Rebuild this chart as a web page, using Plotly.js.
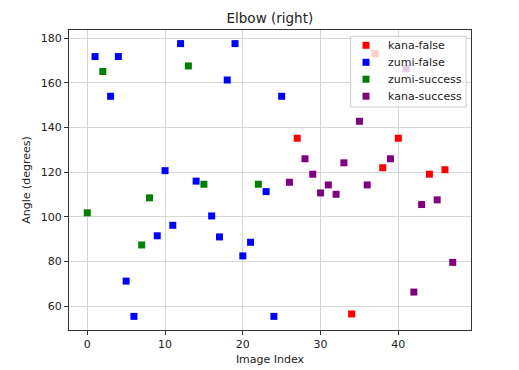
<!DOCTYPE html>
<html>
<head>
<meta charset="utf-8">
<script src="https://cdn.plot.ly/plotly-3.0.1.min.js"></script>
<style>html,body{margin:0;padding:0;background:#fff;}#chart{width:519px;height:370px;}</style>
</head>
<body>
<div id="chart"></div>
<script>
// Image index -> angle, by group
const kanaFalseX = [27, 34, 37, 38, 40, 44, 46];
const kanaFalseY = [135.2, 56.5, 173.1, 122.0, 135.2, 119.1, 121.1];

const zumiFalseX = [1, 3, 4, 5, 6, 9, 10, 11, 12, 14, 16, 17, 18, 19, 20, 21, 23, 24, 25];
const zumiFalseY = [171.8, 154.0, 171.8, 71.2, 55.4, 91.5, 120.7, 96.2, 177.6, 116.0, 100.4, 91.0, 161.3, 177.6, 82.5, 88.6, 111.3, 55.4, 154.0];

const zumiSuccessX = [0, 2, 7, 8, 13, 15, 22];
const zumiSuccessY = [101.8, 165.1, 87.4, 108.5, 167.6, 114.6, 114.6];

const kanaSuccessX = [26, 28, 29, 30, 31, 32, 33, 35, 36, 39, 41, 42, 43, 45, 47];
const kanaSuccessY = [115.5, 126.0, 119.1, 110.7, 114.3, 110.1, 124.2, 142.8, 114.3, 126.0, 166.4, 66.3, 105.5, 107.6, 79.6];

const seriesNames = ['kana-false', 'zumi-false', 'zumi-success', 'kana-success'];
const seriesColors = ['#ff0000', '#0000ff', '#008000', '#800080'];
const xs = [kanaFalseX, zumiFalseX, zumiSuccessX, kanaSuccessX];
const ys = [kanaFalseY, zumiFalseY, zumiSuccessY, kanaSuccessY];

const traces = seriesNames.map((n, i) => ({
  type: 'scatter', mode: 'markers', name: n, x: xs[i], y: ys[i],
  marker: {symbol: 'square', size: 7, color: seriesColors[i], line: {width: 0}},
  showlegend: false
}));

const W = 519, H = 370, M = {l: 69, r: 48, t: 30, b: 40};
const PW = W - M.l - M.r, PH = H - M.t - M.b;
const px2x = p => (p - M.l) / PW;
const px2y = p => 1 - (p - M.t) / PH;

const font = {family: 'DejaVu Sans, sans-serif', size: 11, color: '#222'};

// Matplotlib-style legend box (drawn above the markers, semi-transparent)
const shapes = [{
  type: 'rect', xref: 'paper', yref: 'paper', layer: 'above',
  x0: px2x(350.7), x1: px2x(466), y0: px2y(107), y1: px2y(36.3),
  fillcolor: 'rgba(255,255,255,0.8)', line: {color: '#cccccc', width: 1}
}];
const annotations = [];
const itemY = [45.3, 62.3, 79.2, 96.2];
seriesNames.forEach((n, i) => {
  shapes.push({
    type: 'rect', xref: 'paper', yref: 'paper', layer: 'above',
    x0: px2x(366 - 3.5), x1: px2x(366 + 3.5), y0: px2y(itemY[i] + 3.5), y1: px2y(itemY[i] - 3.5),
    fillcolor: seriesColors[i], line: {width: 0}
  });
  annotations.push({
    xref: 'paper', yref: 'paper', x: px2x(386), y: px2y(itemY[i]),
    xanchor: 'left', yanchor: 'middle', showarrow: false, text: n, font: font
  });
});

const axisCommon = {
  showgrid: true, gridcolor: '#d6d6d6', gridwidth: 1,
  zeroline: false, showline: true, linecolor: '#333', linewidth: 1, mirror: true,
  ticks: 'outside', ticklen: 4, tickcolor: '#333', tickfont: font
};

const layout = {
  width: W, height: H,
  margin: M,
  paper_bgcolor: '#fff', plot_bgcolor: '#fff',
  font: font,
  title: {text: 'Elbow (right)', font: {family: 'DejaVu Sans, sans-serif', size: 13.5, color: '#222'}, x: 0.52, xanchor: 'center', y: 0.95, yanchor: 'middle'},
  xaxis: Object.assign({}, axisCommon, {range: [-2.35, 49.35], tickvals: [0, 10, 20, 30, 40],
    title: {text: 'Image Index', font: font, standoff: 5}}),
  yaxis: Object.assign({}, axisCommon, {range: [49.3, 183.7], tickvals: [60, 80, 100, 120, 140, 160, 180],
    title: {text: 'Angle (degrees)', font: font, standoff: 7}}),
  showlegend: false,
  shapes: shapes,
  annotations: annotations
};

Plotly.newPlot('chart', traces, layout, {displayModeBar: false, staticPlot: true});
</script>
</body>
</html>
